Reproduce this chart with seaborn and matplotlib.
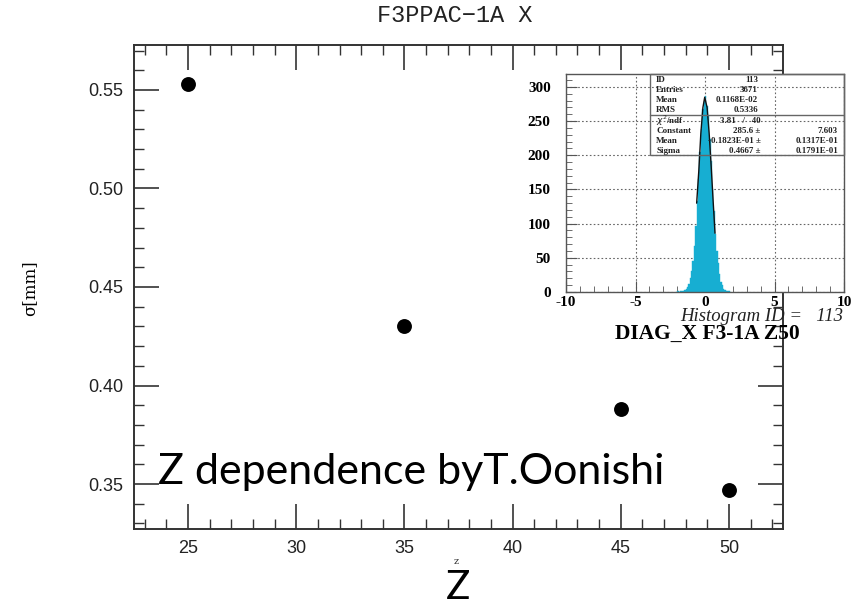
import numpy as np
import matplotlib.pyplot as plt
import seaborn as sns
from matplotlib.ticker import MultipleLocator, FormatStrFormatter
from matplotlib.patches import Rectangle

# main chart: sigma vs Z
z_values = [25, 35, 45, 50]
sigma_mm = [0.553, 0.430, 0.388, 0.347]

# inset histogram (DIAG_X F3-1A Z50), bins of 0.1 starting at -2.0
hist_start = -2.0
hist_width = 0.1
hist_counts = [1, 0, 1, 1, 2, 3, 4, 7, 12, 20,
               30, 46, 68, 97, 133, 165, 205, 238, 268, 279,
               287, 272, 258, 224, 192, 150, 118, 85, 60, 42,
               27, 15, 10, 5, 3, 2, 1, 1]

# gaussian fit line as seen on the inset
fit_x = [-0.60, -0.45, -0.30, -0.15, -0.02, 0.15, 0.30, 0.45, 0.60, 0.72]
fit_y = [130, 176, 232, 270, 285, 270, 232, 182, 128, 86]

# stats box
stats_top = [("ID", "113"), ("Entries", "3671"), ("Mean", "0.1168E-02"), ("RMS", "0.5336")]
stats_fit = [(r"$\chi^2$/ndf", "3.81   /   40", ""),
             ("Constant", "285.6 \u00b1", "7.603"),
             ("Mean", "-0.1823E-01 \u00b1", "0.1317E-01"),
             ("Sigma", "0.4667 \u00b1", "0.1791E-01")]

sns.set_theme(style="ticks")
plt.rcParams['font.family'] = ['Liberation Sans', 'DejaVu Sans']
plt.rcParams['axes.unicode_minus'] = False

W, H = 864, 608
fig = plt.figure(figsize=(W / 100, H / 100), dpi=100)


def fx(px):
    return px / W


def fy(py):
    return 1 - py / H


# ---- main axes
ax = fig.add_axes([fx(134), fy(529), fx(783) - fx(134), fy(45) - fy(529)])
sns.scatterplot(x=z_values, y=sigma_mm, ax=ax, color='black', s=115, linewidth=0, zorder=3)
ax.set_xlim(22.5, 52.5)
ax.set_ylim(0.3272, 0.5728)
ax.xaxis.set_major_locator(MultipleLocator(5))
ax.xaxis.set_minor_locator(MultipleLocator(1))
ax.yaxis.set_major_locator(MultipleLocator(0.05))
ax.yaxis.set_minor_locator(MultipleLocator(0.01))
ax.yaxis.set_major_formatter(FormatStrFormatter('%.2f'))
ax.tick_params(which='both', direction='in', top=True, right=True, color='#333333')
ax.tick_params(which='major', length=18, width=1.2, labelsize=13, pad=8, labelcolor='#222222')
ax.tick_params(which='minor', length=7, width=1.0)
for sp in ax.spines.values():
    sp.set_color('#333333')
    sp.set_linewidth(1.4)

fig.text(fx(455), fy(16), 'F3PPAC\u22121A X', family='Liberation Mono', fontsize=17,
         ha='center', va='center', color='#222222')
fig.text(fx(30), fy(288), '\u03c3[mm]', family='DejaVu Serif', fontsize=12,
         rotation=90, ha='center', va='center', color='black')
fig.text(fx(456), fy(562), 'z', family='DejaVu Serif', fontsize=7, ha='center', va='center',
         color='#333333')
fig.text(fx(458), fy(599), 'Z', family='Lato', fontsize=29, ha='center', va='baseline',
         color='black')
ax.text(23.6, 0.35, 'Z dependence byT.Oonishi', family='Lato', fontsize=31,
        ha='left', va='baseline', zorder=5, color='black')

# ---- pasted histogram panel
panel = fig.add_axes([fx(512), fy(345), fx(864) - fx(512), fy(56) - fy(345)])
panel.set_facecolor('white')
panel.axis('off')
panel.patch.set_visible(True)

ax_in = fig.add_axes([fx(566), fy(292), fx(844) - fx(566), fy(74) - fy(292)])
edges = [hist_start + i * hist_width for i in range(len(hist_counts) + 1)]
centers = [hist_start + (i + 0.5) * hist_width for i in range(len(hist_counts))]
sns.histplot(x=centers, weights=hist_counts, bins=edges, ax=ax_in, color='#17aed2',
             alpha=1, edgecolor='#17aed2', linewidth=0.3, zorder=2)
sns.lineplot(x=fit_x, y=fit_y, ax=ax_in, color='#111111', linewidth=1.0, zorder=3)
ax_in.set_xlim(-10, 10)
ax_in.set_ylim(0, 319)
ax_in.set_xlabel('')
ax_in.set_ylabel('')
ax_in.xaxis.set_major_locator(MultipleLocator(5))
ax_in.xaxis.set_minor_locator(MultipleLocator(1))
ax_in.yaxis.set_major_locator(MultipleLocator(50))
ax_in.yaxis.set_minor_locator(MultipleLocator(10))
ax_in.tick_params(which='both', direction='in', color='#555555')
ax_in.tick_params(which='major', length=8, width=0.8)
ax_in.tick_params(axis='y', which='major', pad=11)
ax_in.tick_params(axis='x', which='major', pad=3)
ax_in.tick_params(which='minor', length=4, width=0.6)
for lab in ax_in.get_xticklabels() + ax_in.get_yticklabels():
    lab.set_fontfamily('Liberation Serif')
    lab.set_fontweight('bold')
    lab.set_fontsize(11)
    lab.set_color('black')
ax_in.grid(True, which='major', color='#666666', linestyle=(0, (1.5, 2)), linewidth=0.8)
for sp in ax_in.spines.values():
    sp.set_color('#555555')
    sp.set_linewidth(1.0)

# stats box
ax_in.add_patch(Rectangle((0.302, 0.628), 0.698, 0.372, transform=ax_in.transAxes,
                          fill=False, ec='#666666', lw=1.0, zorder=4, clip_on=False))
ax_in.plot([0.302, 1.0], [0.812, 0.812], transform=ax_in.transAxes, color='#666666',
           lw=1.0, zorder=4)
box_font = dict(family='Liberation Serif', fontweight='bold', fontsize=6.5,
                transform=ax_in.transAxes, va='center', zorder=5, color='#222222')
row_y = [0.972, 0.927, 0.881, 0.835]
for (name, val), yy in zip(stats_top, row_y):
    ax_in.text(0.324, yy, name, ha='left', **box_font)
    ax_in.text(0.69, yy, val, ha='right', **box_font)
row_y = [0.784, 0.739, 0.693, 0.647]
for (name, val, err), yy in zip(stats_fit, row_y):
    ax_in.text(0.324, yy, name, ha='left', **box_font)
    ax_in.text(0.70, yy, val, ha='right', **box_font)
    ax_in.text(0.978, yy, err, ha='right', **box_font)

fig.text(fx(843), fy(321), 'Histogram ID =   113', family='Liberation Serif',
         style='italic', fontsize=13.5, ha='right', va='baseline', color='#222222')
fig.text(fx(707), fy(334), 'DIAG_X F3-1A Z50', family='Liberation Serif',
         fontweight='bold', fontsize=15.5, ha='center', va='center', color='black')

fig.savefig('out.png', dpi=100)
